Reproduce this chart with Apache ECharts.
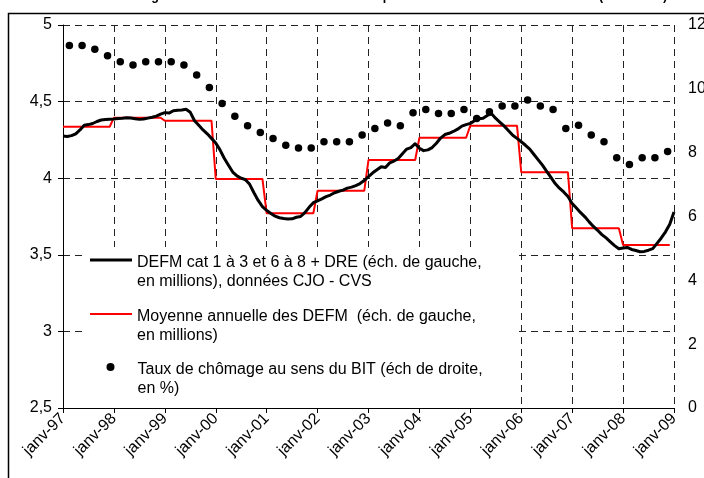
<!DOCTYPE html>
<html><head><meta charset="utf-8">
<script src="https://cdn.jsdelivr.net/npm/echarts@6/dist/echarts.min.js"></script>
<style>html,body{margin:0;padding:0;background:#fff}#c{width:704px;height:478px}</style>
</head><body><div id="c"></div>
<script>
// ---- data ----
const xLabels = ['janv-97','janv-98','janv-99','janv-00','janv-01','janv-02','janv-03','janv-04','janv-05','janv-06','janv-07','janv-08','janv-09'];
const leftTicks = [2.5, 3, 3.5, 4, 4.5, 5];
const rightTicks = [0, 2, 4, 6, 8, 10, 12];

// DEFM cat 1-3 & 6-8 + DRE, monthly, janv-97 .. janv-09 (millions)
const defmMonthly = [
 4.275,4.272,4.278,4.290,4.315,4.345,4.350,4.357,4.370,4.380,4.383,4.385,
 4.386,4.390,4.392,4.395,4.393,4.388,4.384,4.386,4.392,4.398,4.405,4.418,
 4.428,4.425,4.440,4.444,4.445,4.450,4.430,4.375,4.345,4.315,4.290,4.260,
 4.230,4.185,4.130,4.085,4.040,4.015,4.000,3.990,3.960,3.905,3.855,3.815,
 3.790,3.770,3.752,3.742,3.737,3.733,3.735,3.745,3.750,3.775,3.810,3.840,
 3.852,3.865,3.880,3.890,3.905,3.915,3.922,3.935,3.942,3.952,3.965,3.985,
 4.010,4.035,4.055,4.075,4.070,4.100,4.112,4.128,4.160,4.190,4.200,4.225,
 4.195,4.180,4.185,4.200,4.228,4.262,4.285,4.293,4.305,4.320,4.340,4.350,
 4.358,4.375,4.388,4.392,4.410,4.420,4.390,4.365,4.340,4.310,4.280,4.260,
 4.238,4.215,4.190,4.155,4.120,4.085,4.045,4.005,3.965,3.935,3.910,3.880,
 3.835,3.805,3.775,3.748,3.715,3.685,3.660,3.632,3.610,3.585,3.560,3.540,
 3.545,3.548,3.535,3.528,3.520,3.522,3.530,3.540,3.575,3.610,3.650,3.700,
 3.780
];

// Annual averages of DEFM (millions), 1997 .. 2008
const meanYears = [1997,1998,1999,2000,2001,2002,2003,2004,2005,2006,2007,2008];
const meanValues = [4.336,4.395,4.375,3.995,3.771,3.918,4.119,4.264,4.343,4.039,3.673,3.564];

// ILO unemployment rate (%), quarterly, T1 1997 .. T4 2008
const unempQuarterly = [
 11.36,11.36,11.24,11.04, 10.85,10.75,10.85,10.85, 10.85,10.75,10.43,10.04,
 9.54,9.14,8.84,8.63, 8.44,8.23,8.15,8.15, 8.34,8.34,8.34,8.55,
 8.76,8.93,8.84,9.25, 9.35,9.23,9.23,9.35, 9.07,9.28,9.46,9.46,
 9.65,9.46,9.35,8.76, 8.86,8.55,8.34,7.84, 7.63,7.84,7.84,8.04
];

const legendLines = [
 ['DEFM cat 1 à 3 et 6 à 8 + DRE (éch. de gauche,', 'en millions), données CJO - CVS'],
 ['Moyenne annuelle des DEFM  (éch. de gauche,', 'en millions)'],
 ['Taux de chômage au sens du BIT (éch de droite,', 'en %)']
];
const titleText = "Chômage au sens du BIT et demandeurs d'emploi en fin de mois inscrits à l'ANPE (1997-2009)";

// ---- build ----
const FONT = '"Liberation Sans", Arial, sans-serif';
const names = legendLines.map(l => l.join(' '));
// spacer first line so that the first text line sits level with the legend symbol
const fmtLegend = name => { const i = names.indexOf(name); return i >= 0 ? '{b| }\n' + legendLines[i].join('\n') : name; };
const fmtLegendDot = name => { const i = names.indexOf(name); return i >= 0 ? '{b| }\n{sp|}' + legendLines[i].join('\n{sp|}') : name; };

const defmData = defmMonthly.map((v, i) => [i, v]);
const meanData = [];
meanValues.forEach((v, i) => { meanData.push([12 * i, v]); meanData.push([12 * i + 11, v]); });
const unempData = unempQuarterly.map((v, k) => [3 * k + 1.5, v]);

const legTxt = {fontFamily: FONT, fontSize: 16, color: '#000', lineHeight: 19, rich: {b: {lineHeight: 25}, sp: {width: 18}}};
const chart = echarts.init(document.getElementById('c'), null, {renderer: 'canvas'});
chart.setOption({
  animation: false,
  backgroundColor: '#fff',
  textStyle: {fontFamily: FONT},
  title: {text: titleText, left: 109, top: -10, padding: 0,
    textStyle: {fontFamily: FONT, fontWeight: 'bold', fontSize: 12.5, color: '#000'}},
  grid: {left: 63, right: 30, top: 25, bottom: 70, outerBoundsMode: 'none'},
  xAxis: {
    type: 'value', min: 0, max: 144, interval: 12,
    axisLine: {show: true, onZero: false, lineStyle: {color: '#000', width: 1}},
    axisTick: {show: true, length: 5, lineStyle: {color: '#000'}},
    axisLabel: {rotate: 45, margin: 8, color: '#000', fontFamily: FONT, fontSize: 16,
      formatter: v => xLabels[Math.round(v / 12)]},
    splitLine: {show: true, lineStyle: {type: [7, 5], color: '#222', width: 1}}
  },
  yAxis: [{
    type: 'value', min: leftTicks[0], max: leftTicks[leftTicks.length - 1], interval: 0.5, position: 'left',
    axisLine: {show: true, lineStyle: {color: '#000', width: 1}},
    axisTick: {show: true, length: 5, lineStyle: {color: '#000'}},
    axisLabel: {margin: 11, color: '#000', fontFamily: FONT, fontSize: 16,
      formatter: v => String(v).replace('.', ',')},
    splitLine: {show: true, lineStyle: {type: [7, 5], color: '#222', width: 1}}
  }, {
    type: 'value', min: rightTicks[0], max: rightTicks[rightTicks.length - 1], interval: 2, position: 'right',
    axisLine: {show: false}, axisTick: {show: false}, splitLine: {show: false},
    axisLabel: {margin: 14, color: '#000', fontFamily: FONT, fontSize: 16}
  }],
  legend: [
    {data: [{name: names[0], icon: 'rect'}], left: 90, top: 228.5, padding: 0, itemWidth: 42, itemHeight: 3,
     selectedMode: false, formatter: fmtLegend, textStyle: legTxt, z: 8},
    {data: [{name: names[1], icon: 'rect'}], left: 90, top: 282.5, padding: 0, itemWidth: 42, itemHeight: 2,
     selectedMode: false, formatter: fmtLegend, textStyle: legTxt, z: 8},
    {data: [{name: names[2], icon: 'circle', itemStyle: {opacity: 1}}], left: 106.5, top: 335.5, padding: 0, itemWidth: 8, itemHeight: 8,
     selectedMode: false, formatter: fmtLegendDot, textStyle: legTxt, z: 8}
  ],
  graphic: [
    {type: 'rect', x: 83, y: 247, shape: {x: 0, y: 0, width: 432, height: 158}, style: {fill: '#fff'}, z: 5, silent: true},
    {type: 'rect', x: 8.5, y: 13.5, shape: {x: 0, y: 0, width: 800, height: 600}, style: {fill: 'none', stroke: '#000', lineWidth: 1.5}, z: 10, silent: true}
  ],
  series: [
    {name: names[0], type: 'line', data: defmData, symbol: 'none', z: 4,
     lineStyle: {color: '#000', width: 3, join: 'round'}, itemStyle: {color: '#000'}},
    {name: names[1], type: 'line', data: meanData, symbol: 'none', z: 3,
     lineStyle: {color: '#ff0000', width: 2}, itemStyle: {color: '#ff0000'}},
    {name: names[2], type: 'scatter', yAxisIndex: 1, data: unempData, symbol: 'circle', symbolSize: 7.5, z: 5,
     itemStyle: {color: '#000', opacity: 1}}
  ]
});
</script></body></html>
